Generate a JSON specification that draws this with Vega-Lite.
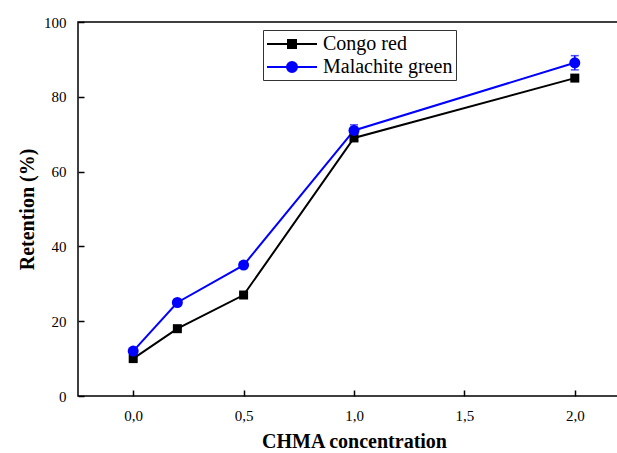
{
  "$schema": "https://vega.github.io/schema/vega-lite/v6.json",
  "autosize": "none",
  "width": 552,
  "height": 374,
  "padding": {"left": 78, "top": 22, "right": 0, "bottom": 57},
  "background": "white",
  "data": {
    "values": [
      {"series": "Congo red", "conc": 0, "retention": 10, "err": 0.3},
      {"series": "Congo red", "conc": 0.2, "retention": 18, "err": 0.3},
      {"series": "Congo red", "conc": 0.5, "retention": 27, "err": 0.3},
      {"series": "Congo red", "conc": 1, "retention": 69, "err": 0.4},
      {"series": "Congo red", "conc": 2, "retention": 85, "err": 0.4},
      {"series": "Malachite green", "conc": 0, "retention": 12, "err": 0.5},
      {"series": "Malachite green", "conc": 0.2, "retention": 25, "err": 0.5},
      {"series": "Malachite green", "conc": 0.5, "retention": 35, "err": 0.6},
      {"series": "Malachite green", "conc": 1, "retention": 71, "err": 1.5},
      {"series": "Malachite green", "conc": 2, "retention": 89.1, "err": 1.9}
    ]
  },
  "layer": [
    {
      "mark": {"type": "line", "strokeWidth": 2},
      "encoding": {
        "x": {
          "field": "conc", "type": "quantitative",
          "scale": {"domain": [-0.25, 2.25], "nice": false, "zero": false},
          "axis": {
            "orient": "bottom",
            "values": [0, 0.5, 1, 1.5, 2],
            "labelExpr": "replace(format(datum.value, '.1f'), '.', ',')",
            "labelOverlap": false,
            "ticks": true,
            "tickSize": -6,
            "labelPadding": 18,
            "title": "CHMA concentration",
            "titlePadding": 8
          }
        },
        "y": {
          "field": "retention", "type": "quantitative",
          "scale": {"domain": [0, 100], "nice": false},
          "axis": {
            "orient": "left",
            "values": [0, 10, 20, 30, 40, 50, 60, 70, 80, 90, 100],
            "tickCount": 10,
            "labelOverlap": false,
            "labelBound": false,
            "ticks": true,
            "tickSize": -6,
            "labelPadding": 18,
            "title": "Retention (%)",
            "titlePadding": 6
          }
        },
        "color": {
          "field": "series", "type": "nominal",
          "scale": {"domain": ["Congo red", "Malachite green"], "range": ["black", "blue"]},
          "legend": {
            "orient": "none", "legendX": 185, "legendY": 8, "title": null,
            "strokeColor": "#333", "padding": 3,
            "labelFont": "Liberation Serif", "labelFontSize": 20, "labelColor": "black",
            "labelOffset": 35, "symbolSize": 400, "symbolStrokeWidth": 2, "rowPadding": 2,
            "encode": {
              "symbols": {"update": {
                "shape": {"signal": "datum.label == 'Congo red' ? 'M-1,0H4M1.1,-0.4H1.9V0.4H1.1Z' : 'M-1,0H4M1.5,-0.5A0.5,0.5,0,1,1,1.5,0.5A0.5,0.5,0,1,1,1.5,-0.5Z'"},
                "fill": {"signal": "datum.label == 'Congo red' ? 'black' : 'blue'"},
                "stroke": {"signal": "datum.label == 'Congo red' ? 'black' : 'blue'"},
                "strokeWidth": {"value": 2},
                "opacity": {"value": 1}
              }}
            }
          }
        }
      }
    },
    {
      "mark": {"type": "rule", "strokeWidth": 1.5},
      "encoding": {
        "x": {"field": "conc", "type": "quantitative"},
        "y": {"field": "lo", "type": "quantitative"},
        "y2": {"field": "hi"},
        "color": {"field": "series", "type": "nominal", "legend": null}
      },
      "transform": [
        {"calculate": "datum.retention - datum.err", "as": "lo"},
        {"calculate": "datum.retention + datum.err", "as": "hi"}
      ]
    },
    {
      "mark": {"type": "tick", "orient": "horizontal", "size": 8, "thickness": 1.5},
      "encoding": {
        "x": {"field": "conc", "type": "quantitative"},
        "y": {"field": "lo", "type": "quantitative"},
        "color": {"field": "series", "type": "nominal", "legend": null}
      },
      "transform": [{"calculate": "datum.retention - datum.err", "as": "lo"}]
    },
    {
      "mark": {"type": "tick", "orient": "horizontal", "size": 8, "thickness": 1.5},
      "encoding": {
        "x": {"field": "conc", "type": "quantitative"},
        "y": {"field": "hi", "type": "quantitative"},
        "color": {"field": "series", "type": "nominal", "legend": null}
      },
      "transform": [{"calculate": "datum.retention + datum.err", "as": "hi"}]
    },
    {
      "transform": [{"filter": "datum.series == 'Congo red'"}],
      "mark": {"type": "point", "shape": "square", "filled": true, "size": 81, "opacity": 1},
      "encoding": {
        "x": {"field": "conc", "type": "quantitative"},
        "y": {"field": "retention", "type": "quantitative"},
        "color": {"field": "series", "type": "nominal", "legend": null}
      }
    },
    {
      "transform": [{"filter": "datum.series == 'Malachite green'"}],
      "mark": {"type": "point", "shape": "circle", "filled": true, "size": 121, "opacity": 1},
      "encoding": {
        "x": {"field": "conc", "type": "quantitative"},
        "y": {"field": "retention", "type": "quantitative"},
        "color": {"field": "series", "type": "nominal", "legend": null}
      }
    }
  ],
  "config": {
    "view": {"stroke": "black", "strokeWidth": 1.5},
    "axis": {
      "domain": false,
      "grid": false,
      "tickColor": "black",
      "tickWidth": 1.5,
      "labelFont": "Liberation Serif",
      "labelFontSize": 15,
      "labelColor": "black",
      "titleFont": "Liberation Serif",
      "titleFontSize": 20,
      "titleFontWeight": "bold",
      "titleColor": "black"
    },
    "axisX": {"tickSize": -6, "labelFont": "Liberation Serif", "labelFontSize": 15, "labelOverlap": false},
    "axisY": {"tickSize": -6, "labelFont": "Liberation Serif", "labelFontSize": 15, "labelOverlap": false}
  }
}
